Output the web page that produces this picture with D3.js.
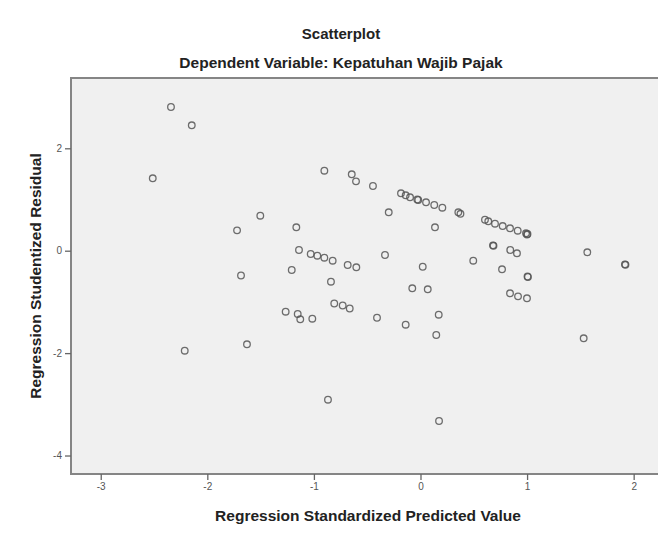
<!DOCTYPE html>
<html>
<head>
<meta charset="utf-8">
<script src="https://cdn.jsdelivr.net/npm/d3@7"></script>
<style>
  body { margin: 0; background: #fff; }
  text { font-family: "Liberation Sans", Arial, sans-serif; }
</style>
</head>
<body>
<script>
// standardized predicted value (x) / studentized residual (y)
var predicted = [-2.341, -2.146, -2.512, -0.902, -0.645, -0.605, -0.446, -1.503, -1.721, -1.165,
  -0.298, -0.183, -0.139, -0.098, -0.021, -0.030, 0.052, 0.129, 0.205, 0.355,
  0.375, 0.136, 0.605, 0.636, 0.699, 0.771, 0.840, 0.912, 0.990, 0.999,
  1.004, 0.680, 0.685, 0.842, 0.905, -1.140, -1.030, -0.968, -0.902, -0.824,
  -0.683, -0.602, -1.208, -0.840, -1.684, -0.333, 0.021, 0.495, 0.765, -0.077,
  0.068, 0.840, 0.915, 0.999, 1.008, 1.004, 1.565, 1.918, 1.923, 1.531,
  -0.809, -0.730, -0.664, -1.265, -1.152, -1.128, -1.015, -0.408, -0.139, 0.171,
  0.148, -1.628, -2.212, -0.868, 0.174];
var residual = [2.807, 2.449, 1.414, 1.563, 1.492, 1.355, 1.264, 0.684, 0.398, 0.457,
  0.750, 1.121, 1.082, 1.043, 0.990, 1.000, 0.945, 0.893, 0.840, 0.750,
  0.721, 0.457, 0.605, 0.574, 0.527, 0.482, 0.438, 0.391, 0.340, 0.316,
  0.326, 0.105, 0.096, 0.014, -0.051, 0.014, -0.064, -0.098, -0.137, -0.195,
  -0.279, -0.324, -0.377, -0.605, -0.484, -0.084, -0.313, -0.195, -0.363, -0.734,
  -0.754, -0.832, -0.891, -0.930, -0.514, -0.504, -0.031, -0.266, -0.275, -1.711,
  -1.031, -1.070, -1.129, -1.191, -1.236, -1.340, -1.328, -1.309, -1.445, -1.250,
  -1.646, -1.828, -1.953, -2.910, -3.326];
var xTicks = [-3, -2, -1, 0, 1, 2];
var yTicks = [2, 0, -2, -4];

var title = "Scatterplot";
var subtitle = "Dependent Variable: Kepatuhan Wajib Pajak";
var xLabel = "Regression Standardized Predicted Value";
var yLabel = "Regression Studentized Residual";

var width = 658, height = 535;
// plot frame (right edge runs past the window like in the source picture)
var plotL = 71, plotT = 78, plotR = 665, plotB = 474;

var svg = d3.select("body").append("svg")
  .attr("width", width)
  .attr("height", height);

var x = d3.scaleLinear().domain([-3.279, 2.294]).range([plotL, plotR]);
var y = d3.scaleLinear().domain([-4.361, 3.373]).range([plotB, plotT]);

// plot area
svg.append("rect")
  .attr("x", plotL).attr("y", plotT)
  .attr("width", plotR - plotL).attr("height", plotB - plotT)
  .attr("fill", "#f0f0f0")
  .attr("stroke", "#858585")
  .attr("stroke-width", 2);

var xAxis = svg.append("g")
  .attr("transform", "translate(0," + plotB + ")")
  .call(d3.axisBottom(x).tickValues(xTicks).tickSize(6).tickSizeOuter(0).tickPadding(3)
    .tickFormat(function(d) { return String(d); }));
var yAxis = svg.append("g")
  .attr("transform", "translate(" + plotL + ",0)")
  .call(d3.axisLeft(y).tickValues(yTicks).tickSize(6).tickSizeOuter(0).tickPadding(3)
    .tickFormat(function(d) { return String(d); }));

[xAxis, yAxis].forEach(function(a) {
  a.select(".domain").remove();
  a.selectAll(".tick line").attr("stroke", "#666").attr("stroke-width", 1.3);
  a.selectAll(".tick text").attr("fill", "#555").style("font-size", "10px");
});

svg.append("g").selectAll("circle")
  .data(predicted)
  .enter()
  .append("circle")
  .attr("cx", function(d) { return x(d); })
  .attr("cy", function(d, i) { return y(residual[i]); })
  .attr("r", 3.3)
  .attr("fill", "none")
  .attr("stroke", "#555")
  .attr("stroke-opacity", 0.85)
  .attr("stroke-width", 1.3);

// titles
svg.append("text")
  .attr("x", 341).attr("y", 38.5)
  .attr("text-anchor", "middle")
  .style("font-size", "15px").style("font-weight", "bold")
  .attr("fill", "#222")
  .text(title);
svg.append("text")
  .attr("x", 341).attr("y", 68)
  .attr("text-anchor", "middle")
  .style("font-size", "15.5px").style("font-weight", "bold")
  .attr("fill", "#222")
  .text(subtitle);

svg.append("text")
  .attr("x", (plotL + plotR) / 2).attr("y", 521)
  .attr("text-anchor", "middle")
  .style("font-size", "15.5px").style("font-weight", "bold")
  .attr("fill", "#222")
  .text(xLabel);
svg.append("text")
  .attr("transform", "translate(41," + (plotT + plotB) / 2 + ") rotate(-90)")
  .attr("text-anchor", "middle")
  .style("font-size", "15.5px").style("font-weight", "bold")
  .attr("fill", "#222")
  .text(yLabel);
</script>
</body>
</html>
